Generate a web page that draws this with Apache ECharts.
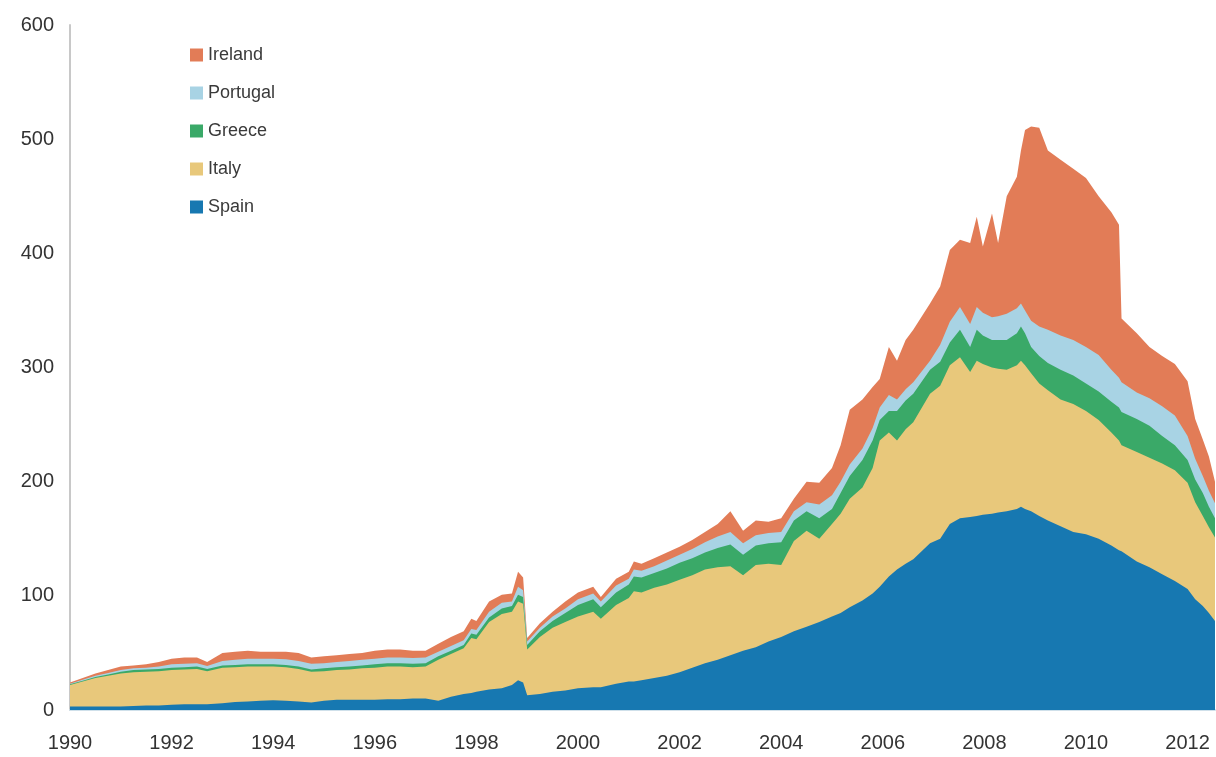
<!DOCTYPE html>
<html>
<head>
<meta charset="utf-8">
<script src="https://cdn.jsdelivr.net/npm/echarts@6/dist/echarts.min.js"></script>
<style>
html,body{margin:0;padding:0;background:#fff;}
#chart{width:1216px;height:757px;}
</style>
</head>
<body>
<div id="chart"></div>
<script>
// Decimal-year dates of each reading
const dates = [
 1990.00,1990.25,1990.50,1990.75,1991.00,1991.25,1991.50,1991.75,1992.00,1992.25,1992.50,1992.70,
 1993.00,1993.25,1993.50,1993.75,1994.00,1994.25,1994.50,1994.75,1995.00,1995.25,1995.50,1995.75,
 1996.00,1996.25,1996.50,1996.75,1997.00,1997.25,1997.50,1997.75,1997.90,1998.00,1998.25,1998.50,
 1998.70,1998.82,1998.92,1999.00,1999.25,1999.50,1999.75,2000.00,2000.30,2000.45,2000.75,2001.00,
 2001.10,2001.25,2001.50,2001.75,2002.00,2002.25,2002.50,2002.75,2003.00,2003.25,2003.50,2003.75,
 2004.00,2004.25,2004.50,2004.75,2005.00,2005.17,2005.35,2005.60,2005.80,2005.94,2006.12,2006.28,
 2006.45,2006.60,2006.93,2007.13,2007.32,2007.52,2007.72,2007.85,2007.97,2008.15,2008.27,2008.44,
 2008.64,2008.72,2008.80,2008.92,2009.08,2009.25,2009.50,2009.75,2010.00,2010.25,2010.50,2010.65,
 2010.70,2011.00,2011.25,2011.50,2011.75,2012.00,2012.15,2012.30,2012.42,2012.54
];
const spain = [
 3,3,3,3,3,3.5,4,4,4.5,5,5,5,
 6,7,7.5,8,8.5,8,7.5,6.5,8,9,9,9,
 9,9.5,9.5,10,10,8,11.5,14,15,16,18,19,
 22,26,24,13,14,16,17,19,20,20,23,25,
 25,26,28,30,33,37,41,44,48,52,55,60,
 64,69,73,77,82,85,90,96,102,108,117,123,
 128,132,146,150,163,168,169,170,171,172,173,174,
 176,178,176,174,170,166,161,156,154,150,144,140,
 139,130,125,119,113,106,97,91,85,78
];
const italy = [
 19,22,25,27,29,29.5,29.5,30,30.5,30.5,31,29,
 31,30.5,30.5,30,29.5,29.5,28.5,27,26,26,26.5,27.5,
 28,28.5,28.5,27.5,28,36,37.5,40,48,46,59,65,
 64,69,69,40,50,56,60,63,66,60,69,73,
 79,77,79,80,81,81,82,81,78,66,72,68,
 63,79,84,73,81,87,95,99,110,128,126,113,
 118,120,131,134,139,141,127,136,132,128,126,124,
 126,128,126,121,116,114,111,112,108,104,99,96,
 93,96,96,97,97,93,85,79,75,73
];
const greece = [
 0.5,0.7,1,1,1.5,2,2,2,2,2,2,2,
 2,2,2,2,2,2,2,2,2.5,2.5,2.5,2.5,
 3,3,3,3,3,3,3,3,4,4,4,5,
 5,6,6,4,5,6,8,10,11,10,11,12,
 13,13,13,14,15,15,15,17,19,18,17,18,
 20,18,17,18,13,18,20,24,24,18,19,26,
 25,25,21,21,20,24,22,27,25,24,25,26,
 28,30,28,23,24,24,26,25,24,25,27,29,
 29,29,28,24,22,20,20,20,18,17
];
const portugal = [
 0.5,0.8,1,1.5,1.5,1.5,1.5,2,3,3,3,2.5,
 4,4.5,5,5,5,5,5,5,4.5,4.5,5,5,
 5,5,5,5,5,4,4,4,4,4,5,5,
 4,7,6,3,3,4,4,5,5,5,6,5,
 6,6,6,7,7,8,9,10,11,10,9,9,
 9,8,8,12,12,10,10,10,11,11,14,10,
 10,10,8,15,18,20,20,20,20,20,21,23,
 22,20,20,23,26,29,30,31,32,32,28,26,
 26,23,24,26,26,21,18,15,14,13
];
const ireland = [
 1,1.5,2,2.5,3,2.5,3,4,5,5.5,5,3.5,
 7,7,7,6,6,6.5,7,5.5,6,6,6,6,
 7,7,7,6.5,6,7,8,8,9,8,9,7,
 7,13,11,3,4,4,6,6,6,4,6,6,
 7,6,7,7,7,8,9,11,18,11,13,10,
 12,11,18,19,24,32,48,43,36,25,42,34,
 43,46,50,51,63,59,71,79,58,91,64,103,
 115,134,158,170,174,157,154,150,148,139,138,134,
 56,52,45,44,45,48,35,32,30,19
];
// stacking order, bottom to top
const stackOrder = ['Spain','Italy','Greece','Portugal','Ireland'];
const legendOrder = ['Ireland','Portugal','Greece','Italy','Spain'];
const yTicks = {min: 0, max: 600, step: 100};
const xTicks = {min: 1990, max: 2012.54, step: 2};

const colors = {Spain:'#1778b1', Italy:'#e8c87b', Greece:'#3aa968', Portugal:'#a8d3e4', Ireland:'#e27c57'};
const values = {Spain: spain, Italy: italy, Greece: greece, Portugal: portugal, Ireland: ireland};

// cumulative totals (each band's upper edge); drawn from the top band down so
// every lower band paints over the one above it
const cumulative = {};
let running = dates.map(() => 0);
stackOrder.forEach(name => {
  running = running.map((r, i) => r + values[name][i]);
  cumulative[name] = running.slice();
});

const font = '"Liberation Sans", Arial, sans-serif';
const chart = echarts.init(document.getElementById('chart'), null, {renderer: 'canvas'});
chart.setOption({
  animation: false,
  backgroundColor: '#ffffff',
  grid: {left: 70, right: 1, top: 25, bottom: 47, containLabel: false},
  legend: {
    data: legendOrder,
    orient: 'vertical',
    left: 185,
    top: 41,
    icon: 'rect',
    itemWidth: 13,
    itemHeight: 13,
    itemGap: 20,
    textStyle: {fontSize: 18, color: '#3a3a3a', fontFamily: font}
  },
  xAxis: {
    type: 'value',
    min: xTicks.min,
    max: xTicks.max,
    interval: xTicks.step,
    axisLine: {show: true, lineStyle: {color: '#cfe0ea', width: 2}},
    axisTick: {show: false},
    splitLine: {show: false},
    axisLabel: {
      formatter: v => String(v),
      showMaxLabel: false,
      fontSize: 20, color: '#333333', fontFamily: font, margin: 23
    }
  },
  yAxis: {
    type: 'value',
    min: yTicks.min,
    max: yTicks.max,
    interval: yTicks.step,
    axisLine: {show: true, lineStyle: {color: '#c8c8c8', width: 2}},
    axisTick: {show: false},
    splitLine: {show: false},
    axisLabel: {fontSize: 20, color: '#333333', fontFamily: font, margin: 16}
  },
  series: stackOrder.slice().reverse().map((name, k) => ({
    name: name,
    type: 'line',
    z: 2 + k,
    data: dates.map((d, i) => [d, cumulative[name][i]]),
    color: colors[name],
    itemStyle: {color: colors[name]},
    lineStyle: {width: 0, color: colors[name]},
    areaStyle: {color: colors[name], opacity: 1},
    showSymbol: false,
    symbol: 'none',
    smooth: false
  }))
});
</script>
</body>
</html>
